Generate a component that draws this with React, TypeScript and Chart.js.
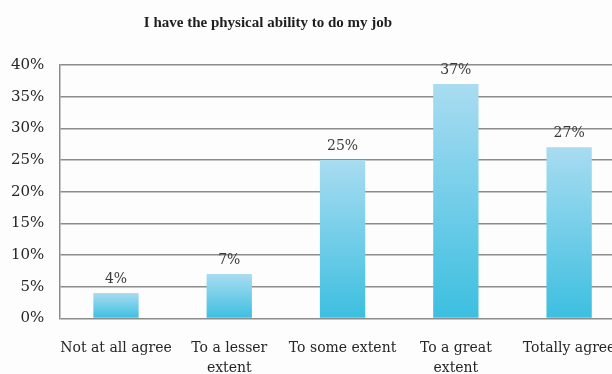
import React, { useEffect, useRef } from "react";
import { Chart, registerables } from "chart.js";

Chart.register(...registerables);

const TITLE = "I have the physical ability to do my job";
const categories: (string | string[])[] = [
  "Not at all agree",
  ["To a lesser", "extent"],
  "To some extent",
  ["To a great", "extent"],
  "Totally agree",
];
const values = [4, 7, 25, 37, 27];
const valueLabels = ["4%", "7%", "25%", "37%", "27%"];
const yTicks = [0, 5, 10, 15, 20, 25, 30, 35, 40];

const SERIF = "'DejaVu Serif', serif";
const SHIFT = 4;

const titlePlugin = {
  id: "customTitle",
  afterDraw(chart: any) {
    const ctx = chart.ctx;
    ctx.save();
    ctx.font = `bold 15px 'Liberation Serif', serif`;
    ctx.fillStyle = "#1e1e1e";
    ctx.textAlign = "center";
    ctx.textBaseline = "middle";
    ctx.fillText(TITLE, 268 + SHIFT, 23);
    ctx.restore();
  },
};

const labelPlugin = {
  id: "valueLabels",
  afterDatasetsDraw(chart: any) {
    const ctx = chart.ctx;
    const meta = chart.getDatasetMeta(0);
    ctx.save();
    ctx.font = `14px ${SERIF}`;
    ctx.fillStyle = "#3a3a3a";
    ctx.textAlign = "center";
    ctx.textBaseline = "bottom";
    meta.data.forEach((bar: any, i: number) => {
      ctx.fillText(valueLabels[i], bar.x, bar.y - 7);
    });
    ctx.restore();
  },
};

export default function App() {
  const ref = useRef<HTMLCanvasElement>(null);
  useEffect(() => {
    if (!ref.current) return;
    const chart = new Chart(ref.current, {
      type: "bar",
      data: {
        labels: categories,
        datasets: [
          {
            data: values,
            barPercentage: 0.4,
            categoryPercentage: 1,
            backgroundColor: (c: any) => {
              const ch = c.chart;
              const ys = ch.scales?.y;
              if (!ys || c.raw === undefined) return "#6ccbe8";
              const top = ys.getPixelForValue(c.raw);
              const bottom = ys.getPixelForValue(0);
              if (!isFinite(top) || !isFinite(bottom) || top === bottom) return "#6ccbe8";
              const g = ch.ctx.createLinearGradient(0, top, 0, bottom);
              g.addColorStop(0, "#a9dcf1");
              g.addColorStop(1, "#3cbfe0");
              return g;
            },
          },
        ],
      },
      options: {
        animation: false,
        responsive: false,
        layout: { padding: { top: 65, left: 0, right: 6, bottom: 0 } },
        plugins: {
          legend: { display: false },
          tooltip: { enabled: false },
        },
        scales: {
          x: {
            grid: { display: false, drawTicks: false },
            border: { display: false },
            ticks: {
              color: "#262626",
              font: { family: SERIF, size: 14, lineHeight: 1.45 },
              padding: 20,
              maxRotation: 0,
              autoSkip: false,
            },
          },
          y: {
            min: 0,
            max: 40,
            afterBuildTicks: (axis: any) => {
              axis.ticks = yTicks.map((v) => ({ value: v }));
            },
            grid: { color: "#8c8c8c", lineWidth: 1.5, drawTicks: false },
            border: { display: true, color: "#8c8c8c", width: 1.5 },
            ticks: {
              color: "#262626",
              font: { family: SERIF, size: 15 },
              padding: 15,
              callback: (v: any) => `${v}%`,
            },
          },
        },
      },
      plugins: [titlePlugin, labelPlugin],
    });
    return () => chart.destroy();
  }, []);
  return (
    <div
      style={{
        position: "absolute",
        left: 0,
        top: 0,
        width: 612,
        height: 374,
        overflow: "hidden",
        background: "#fdfdfd",
      }}
    >
      <canvas
        ref={ref}
        width={640}
        height={399}
        style={{ display: "block", marginLeft: -SHIFT }}
      />
    </div>
  );
}
